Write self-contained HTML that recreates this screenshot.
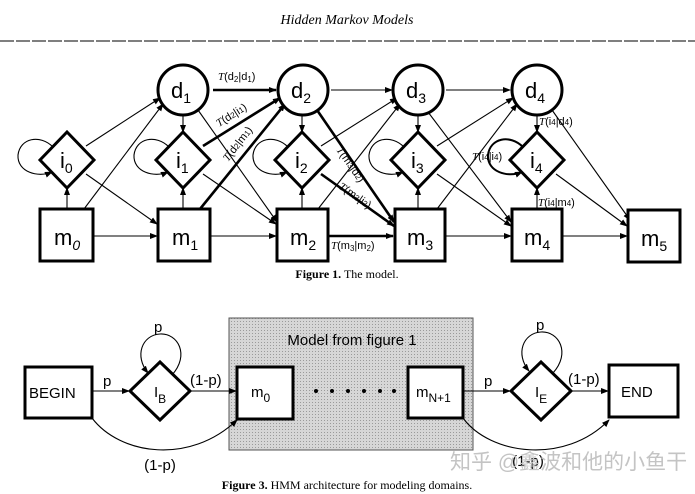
<!DOCTYPE html>
<html><head><meta charset="utf-8"><style>
html,body{margin:0;padding:0;background:#fff;}
svg{display:block;}
text{font-family:"Liberation Sans",sans-serif;fill:#000;}
.s{font-family:"Liberation Serif",serif;}
</style></head><body>
<svg width="695" height="494" viewBox="0 0 695 494" xmlns="http://www.w3.org/2000/svg">
<defs>
<marker id="a" markerWidth="8" markerHeight="8" refX="7" refY="4" orient="auto" markerUnits="userSpaceOnUse"><path d="M0,1 L8,4 L0,7 z" fill="#000"/></marker>
<pattern id="dot" width="3" height="3" patternUnits="userSpaceOnUse"><rect width="3" height="3" fill="#d6d6d6"/><rect width="1" height="1" fill="#9a9a9a"/></pattern>
</defs>
<text x="347" y="24" text-anchor="middle" class="s" font-style="italic" font-size="14">Hidden Markov Models</text>
<line x1="0" y1="41" x2="695" y2="41" stroke="#333" stroke-width="1.2" stroke-dasharray="14 2"/>

<g stroke="#000" stroke-width="1.1" fill="none" marker-end="url(#a)">
<line x1="331" y1="90" x2="392" y2="90"/>
<line x1="446" y1="90" x2="510" y2="90"/>
<line x1="183" y1="115" x2="183" y2="132"/>
<line x1="302" y1="115" x2="302" y2="132"/>
<line x1="418" y1="115" x2="418" y2="132"/>
<line x1="537" y1="115" x2="537" y2="132"/>
<line x1="67" y1="209" x2="67" y2="188"/>
<line x1="183" y1="209" x2="183" y2="188"/>
<line x1="302" y1="209" x2="302" y2="188"/>
<line x1="418" y1="209" x2="418" y2="188"/>
<line x1="537" y1="209" x2="537" y2="188"/>
<line x1="93" y1="236" x2="157" y2="236"/>
<line x1="210" y1="236" x2="276" y2="236"/>
<line x1="445" y1="236" x2="511" y2="236"/>
<line x1="562" y1="236" x2="627" y2="236"/>
<line x1="86" y1="146" x2="160" y2="98"/>
<line x1="86" y1="174" x2="157" y2="224"/>
<line x1="84" y1="209" x2="163" y2="104"/>
<line x1="198" y1="110" x2="277" y2="222"/>
<line x1="428" y1="112" x2="511" y2="222"/>
<line x1="552" y1="110" x2="630" y2="220"/>
<line x1="203" y1="174" x2="276" y2="224"/>
<line x1="437" y1="174" x2="511" y2="226"/>
<line x1="556" y1="174" x2="627" y2="226"/>
<line x1="321" y1="146" x2="397" y2="98"/>
<line x1="437" y1="146" x2="513" y2="98"/>
<line x1="318" y1="209" x2="400" y2="104"/>
<line x1="437" y1="209" x2="517" y2="104"/>
</g>
<g stroke="#000" stroke-width="1.1" fill="none" marker-end="url(#a)">
<path d="M53,147 C40,134 20,138 18,155 C17,172 38,178 52,172"/>
<path d="M169,147 C156,134 136,138 134,155 C133,172 154,178 168,172"/>
<path d="M288,147 C275,134 255,138 253,155 C252,172 273,178 287,172"/>
<path d="M404,147 C391,134 371,138 369,155 C368,172 389,178 403,172"/>
<path d="M523,147 C510,134 490,138 488,155 C487,172 508,178 522,172" stroke-width="2"/>
</g>
<g stroke="#000" stroke-width="2.6" fill="none" marker-end="url(#a)">
<line x1="213" y1="90" x2="276" y2="90"/>
<line x1="203" y1="146" x2="280" y2="98"/>
<line x1="200" y1="209" x2="285" y2="104"/>
<line x1="317" y1="110" x2="394" y2="222"/>
<line x1="321" y1="174" x2="394" y2="226"/>
<line x1="328" y1="236" x2="393" y2="236"/>
</g>
<g stroke="#000" stroke-width="3" fill="#fff">
<circle cx="183" cy="90" r="25"/><circle cx="303" cy="90" r="25"/><circle cx="418" cy="90" r="25"/><circle cx="537" cy="90" r="25"/>
<polygon points="67,132 94,160 67,188 40,160"/>
<polygon points="183,132 210,160 183,188 156,160"/>
<polygon points="302,132 329,160 302,188 275,160"/>
<polygon points="418,132 445,160 418,188 391,160"/>
<polygon points="537,132 564,160 537,188 510,160"/>
<rect x="40" y="209" width="53" height="52"/>
<rect x="158" y="209" width="52" height="52"/>
<rect x="277" y="209" width="51" height="52"/>
<rect x="395" y="209" width="50" height="52"/>
<rect x="512" y="209" width="50" height="52"/>
<rect x="628" y="210" width="52" height="52"/>
</g>
<g font-size="22">
<text x="171" y="98">d<tspan font-size="14" dy="5">1</tspan></text>
<text x="291" y="98">d<tspan font-size="14" dy="5">2</tspan></text>
<text x="406" y="98">d<tspan font-size="14" dy="5">3</tspan></text>
<text x="525" y="98">d<tspan font-size="14" dy="5">4</tspan></text>
<text x="60" y="168">i<tspan font-size="14" dy="5">0</tspan></text>
<text x="176" y="168">i<tspan font-size="14" dy="5">1</tspan></text>
<text x="295" y="168">i<tspan font-size="14" dy="5">2</tspan></text>
<text x="411" y="168">i<tspan font-size="14" dy="5">3</tspan></text>
<text x="530" y="168">i<tspan font-size="14" dy="5">4</tspan></text>
<text x="54" y="245">m<tspan font-size="14" dy="5" font-style="italic">0</tspan></text>
<text x="172" y="245">m<tspan font-size="14" dy="5">1</tspan></text>
<text x="290" y="245">m<tspan font-size="14" dy="5">2</tspan></text>
<text x="407" y="245">m<tspan font-size="14" dy="5">3</tspan></text>
<text x="524" y="245">m<tspan font-size="14" dy="5">4</tspan></text>
<text x="641" y="246">m<tspan font-size="14" dy="5">5</tspan></text>
</g>
<g font-size="11">
<text x="218" y="80"><tspan class="s" font-style="italic">T</tspan>(d<tspan font-size="8" dy="2">2</tspan><tspan dy="-2">|d</tspan><tspan font-size="8" dy="2">1</tspan><tspan dy="-2">)</tspan></text>
<text transform="translate(219,127) rotate(-32)"><tspan class="s" font-style="italic">T</tspan>(d<tspan font-size="8">2</tspan>|i<tspan font-size="8">1</tspan>)</text>
<text transform="translate(228,162) rotate(-52)"><tspan class="s" font-style="italic">T</tspan>(d<tspan font-size="8">2</tspan>|m<tspan font-size="8">1</tspan>)</text>
<text transform="translate(336,150) rotate(55)"><tspan class="s" font-style="italic">T</tspan>(m<tspan font-size="8">3</tspan>|d<tspan font-size="8">2</tspan>)</text>
<text transform="translate(338,188) rotate(35)"><tspan class="s" font-style="italic">T</tspan>(m<tspan font-size="8">3</tspan>|i<tspan font-size="8">2</tspan>)</text>
<text x="331" y="249"><tspan class="s" font-style="italic">T</tspan>(m<tspan font-size="8" dy="2">3</tspan><tspan dy="-2">|m</tspan><tspan font-size="8" dy="2">2</tspan><tspan dy="-2">)</tspan></text>
<text x="539" y="125"><tspan class="s" font-style="italic">T</tspan>(i<tspan font-size="8">4</tspan>|d<tspan font-size="8">4</tspan>)</text>
<text x="472" y="160"><tspan class="s" font-style="italic">T</tspan>(i<tspan font-size="8">4</tspan>|i<tspan font-size="8">4</tspan>)</text>
<text x="538" y="206"><tspan class="s" font-style="italic">T</tspan>(i<tspan font-size="8">4</tspan>|m<tspan font-size="8">4</tspan>)</text>
</g>
<text x="347" y="278" text-anchor="middle" class="s" font-size="12"><tspan font-weight="bold">Figure 1.</tspan> The model.</text>

<rect x="229" y="318" width="244" height="132" fill="url(#dot)" stroke="#555" stroke-width="1"/>
<text x="352" y="345" text-anchor="middle" font-size="15">Model from figure 1</text>
<g stroke="#000" stroke-width="1.1" fill="none" marker-end="url(#a)">
<line x1="92" y1="391" x2="129" y2="391"/>
<line x1="190" y1="391" x2="236" y2="391"/>
<line x1="463" y1="391" x2="510" y2="391"/>
<line x1="571" y1="391" x2="608" y2="391"/>
<path d="M92,418 C120,455 190,465 237,420"/>
<path d="M463,418 C490,455 565,465 609,420"/>
<path d="M172,375 C190,355 178,333 160,334 C142,335 134,356 148,373"/>
<path d="M553,373 C571,353 559,331 541,332 C523,333 515,354 529,371"/>
</g>
<g stroke="#000" stroke-width="3" fill="#fff">
<rect x="25" y="367" width="67" height="51"/>
<polygon points="160,362 190,391 160,420 130,391"/>
<rect x="237" y="367" width="56" height="52"/>
<rect x="408" y="367" width="55" height="51"/>
<polygon points="541,362 571,391 541,420 511,391"/>
<rect x="609" y="365" width="69" height="52"/>
</g>
<g font-size="15">
<text x="29" y="398">BEGIN</text>
<text x="154" y="397">I<tspan font-size="12" dy="6">B</tspan></text>
<text x="251" y="397">m<tspan font-size="12" dy="5">0</tspan></text>
<text x="416" y="397">m<tspan font-size="12" dy="5">N+1</tspan></text>
<text x="535" y="397">I<tspan font-size="12" dy="6">E</tspan></text>
<text x="621" y="397">END</text>
<text x="103" y="386">p</text>
<text x="484" y="386">p</text>
<text x="190" y="385">(1-p)</text>
<text x="568" y="384">(1-p)</text>
<text x="154" y="332">p</text>
<text x="536" y="330">p</text>
<text x="160" y="470" text-anchor="middle">(1-p)</text>
<text x="528" y="466" text-anchor="middle">(1-p)</text>
</g>
<text x="450" y="469" font-size="21" style="fill:#c4c4c4" font-family="'Liberation Sans','Noto Sans CJK SC',sans-serif">知乎 @鑫波和他的小鱼干</text>
<text x="347" y="489" text-anchor="middle" class="s" font-size="12"><tspan font-weight="bold">Figure 3.</tspan> HMM architecture for modeling domains.</text>
<g fill="#000"><circle cx="316" cy="391" r="2"/><circle cx="332" cy="391" r="2"/><circle cx="348" cy="391" r="2"/><circle cx="364" cy="391" r="2"/><circle cx="380" cy="391" r="2"/><circle cx="394" cy="391" r="2"/></g>
</svg>
</body></html>
